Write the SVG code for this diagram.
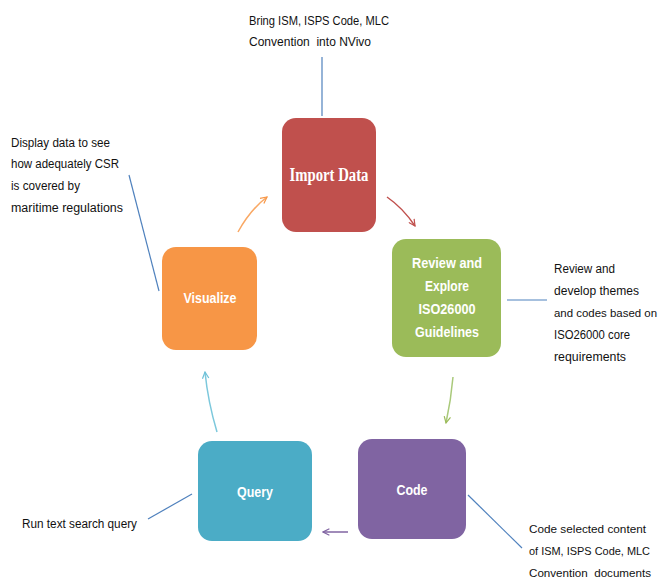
<svg xmlns="http://www.w3.org/2000/svg" width="660" height="580" viewBox="0 0 660 580">
<style>
.note{font-family:"Liberation Sans",Arial,sans-serif;font-size:12.5px;fill:#111;}
.sm{font-size:11.5px;}
.lbl{font-family:"Liberation Sans",Arial,sans-serif;font-size:15px;font-weight:bold;fill:#fff;text-anchor:middle;}
.lblser{font-family:"Liberation Serif","Times New Roman",serif;font-size:18px;font-weight:bold;fill:#fff;text-anchor:middle;}
.lead{stroke:#4F81BD;stroke-width:1.2;fill:none;}
.arr{stroke-width:1.5;fill:none;}
</style>
<defs>
<marker id="mr" viewBox="0 0 10 10" refX="9" refY="5" markerWidth="8" markerHeight="8" orient="auto" markerUnits="userSpaceOnUse"><polyline points="1,1 9,5 1,9" fill="none" stroke="#C0504D" stroke-width="1.5"/></marker>
<marker id="mg" viewBox="0 0 10 10" refX="9" refY="5" markerWidth="8" markerHeight="8" orient="auto" markerUnits="userSpaceOnUse"><polyline points="1,1 9,5 1,9" fill="none" stroke="#9BBB59" stroke-width="1.5"/></marker>
<marker id="mp" viewBox="0 0 10 10" refX="9" refY="5" markerWidth="8" markerHeight="8" orient="auto" markerUnits="userSpaceOnUse"><polyline points="1,1 9,5 1,9" fill="none" stroke="#8064A2" stroke-width="1.5"/></marker>
<marker id="mc" viewBox="0 0 10 10" refX="9" refY="5" markerWidth="8" markerHeight="8" orient="auto" markerUnits="userSpaceOnUse"><polyline points="1,1 9,5 1,9" fill="none" stroke="#6EC1D8" stroke-width="1.5"/></marker>
<marker id="mo" viewBox="0 0 10 10" refX="9" refY="5" markerWidth="8" markerHeight="8" orient="auto" markerUnits="userSpaceOnUse"><polyline points="1,1 9,5 1,9" fill="none" stroke="#F79646" stroke-width="1.5"/></marker>
</defs>
<rect width="660" height="580" fill="#fff"/>
<g id="connectors">
<line class="lead" x1="322" y1="57" x2="322" y2="116"/>
<line class="lead" x1="507" y1="300" x2="547" y2="300"/>
<line class="lead" x1="468" y1="495" x2="522" y2="548"/>
<line class="lead" x1="192" y1="494" x2="148" y2="519"/>
<line class="lead" x1="159" y1="291" x2="129" y2="175"/>
<path class="arr" stroke="#C0504D" d="M387,197 Q403,208 415,226" marker-end="url(#mr)"/>
<path class="arr" stroke="#A9C97A" d="M453,377 Q451,400 446,423" marker-end="url(#mg)"/>
<path class="arr" stroke="#8064A2" d="M348,532 L323,532" marker-end="url(#mp)"/>
<path class="arr" stroke="#7CC8DC" d="M217,432 Q208,402 205,372" marker-end="url(#mc)"/>
<path class="arr" stroke="#F9A864" d="M238,232 Q250,210 267,197" marker-end="url(#mo)"/>
</g>
<g id="import">
<rect x="282" y="118" width="94" height="114" rx="14" fill="#C0504D"/>
<text class="lblser" x="329" y="181" textLength="79" lengthAdjust="spacingAndGlyphs">Import Data</text>
</g>
<g id="review">
<rect x="392" y="239" width="109" height="118" rx="14" fill="#9BBB59"/>
<text class="lbl" x="447" y="268" textLength="70" lengthAdjust="spacingAndGlyphs">Review and</text>
<text class="lbl" x="447" y="291" textLength="44" lengthAdjust="spacingAndGlyphs">Explore</text>
<text class="lbl" x="447" y="314" textLength="57" lengthAdjust="spacingAndGlyphs">ISO26000</text>
<text class="lbl" x="447" y="337" textLength="64" lengthAdjust="spacingAndGlyphs">Guidelines</text>
</g>
<g id="code">
<rect x="358" y="439" width="108" height="100" rx="14" fill="#8064A2"/>
<text class="lbl" x="412" y="495" textLength="31" lengthAdjust="spacingAndGlyphs">Code</text>
</g>
<g id="query">
<rect x="198" y="441" width="114" height="100" rx="14" fill="#4BACC6"/>
<text class="lbl" x="255" y="497" textLength="36" lengthAdjust="spacingAndGlyphs">Query</text>
</g>
<g id="visualize">
<rect x="162" y="247" width="95" height="103" rx="14" fill="#F79646"/>
<text class="lbl" x="210" y="303" textLength="53" lengthAdjust="spacingAndGlyphs">Visualize</text>
</g>
<g id="note-import">
<text class="note" x="249" y="25" textLength="140" lengthAdjust="spacingAndGlyphs">Bring ISM, ISPS Code, MLC</text>
<text class="note" x="249" y="46" textLength="122" lengthAdjust="spacingAndGlyphs" xml:space="preserve">Convention  into NVivo</text>
</g>
<g id="note-review">
<text class="note" x="554" y="273" textLength="61" lengthAdjust="spacingAndGlyphs">Review and</text>
<text class="note" x="554" y="295" textLength="85" lengthAdjust="spacingAndGlyphs">develop themes</text>
<text class="note sm" x="554" y="317" textLength="103" lengthAdjust="spacingAndGlyphs">and codes based on</text>
<text class="note" x="554" y="339" textLength="76" lengthAdjust="spacingAndGlyphs">ISO26000 core</text>
<text class="note" x="554" y="361" textLength="72" lengthAdjust="spacingAndGlyphs">requirements</text>
</g>
<g id="note-code">
<text class="note sm" x="529" y="533" textLength="117" lengthAdjust="spacingAndGlyphs">Code selected content</text>
<text class="note sm" x="529" y="555" textLength="121" lengthAdjust="spacingAndGlyphs">of ISM, ISPS Code, MLC</text>
<text class="note sm" x="529" y="577" textLength="122" lengthAdjust="spacingAndGlyphs" xml:space="preserve">Convention  documents</text>
</g>
<g id="note-query">
<text class="note" x="22" y="528" textLength="115" lengthAdjust="spacingAndGlyphs">Run text search query</text>
</g>
<g id="note-visualize">
<text class="note" x="11" y="147" textLength="99" lengthAdjust="spacingAndGlyphs">Display data to see</text>
<text class="note" x="11" y="168" textLength="108" lengthAdjust="spacingAndGlyphs">how adequately CSR</text>
<text class="note" x="11" y="190" textLength="69" lengthAdjust="spacingAndGlyphs">is covered by</text>
<text class="note" x="11" y="212" textLength="112" lengthAdjust="spacingAndGlyphs">maritime regulations</text>
</g>
</svg>
